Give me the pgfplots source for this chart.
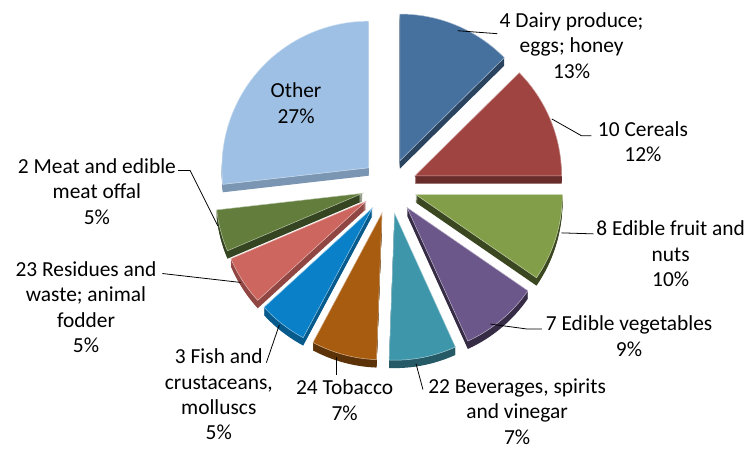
\documentclass[border=0pt]{standalone}
\usepackage{pgfplots}
\pgfplotsset{compat=1.18}
\usepackage{pgfplotstable}
\usepackage{fontspec}
\setmainfont{Carlito}
\definecolor{cDairy}{HTML}{46709E}
\definecolor{cCereal}{HTML}{A04441}
\definecolor{cFruit}{HTML}{829E48}
\definecolor{cVeg}{HTML}{6C578A}
\definecolor{cBev}{HTML}{3E96AA}
\definecolor{cTob}{HTML}{A85C10}
\definecolor{cFish}{HTML}{0A80C8}
\definecolor{cRes}{HTML}{CD665F}
\definecolor{cMeat}{HTML}{627D3C}
\definecolor{cOther}{HTML}{9EC0E4}
\begin{document}
\pgfplotstableread{
value color shade
12.6 cDairy 60
12.4 cCereal 65
9.6 cFruit 45
8.6 cVeg 50
7.4 cBev 60
7.2 cTob 55
5.4 cFish 70
5.4 cRes 70
4.6 cMeat 55
26.8 cOther 78
}\pietable
\def\pcx{386}\def\pcy{188}\def\pE{28}\def\pR{148}
\def\cum{0}
\pgfplotsforeachungrouped \i in {0,...,9}{%
  \pgfplotstablegetelem{\i}{value}\of\pietable \let\v\pgfplotsretval
  \pgfmathsetmacro\sa{90-3.6*\cum}%
  \pgfmathsetmacro\cum{\cum+\v}%
  \pgfmathsetmacro\ea{90-3.6*\cum}%
  \pgfmathsetmacro\ma{(\sa+\ea)/2}%
  \pgfmathsetmacro\axx{\pcx+\pE*cos(\ma)}%
  \pgfmathsetmacro\ayy{\pcy-\pE*sin(\ma)}%
  \pgfplotstablegetelem{\i}{color}\of\pietable
  \expandafter\xdef\csname cc\i\endcsname{\pgfplotsretval}%
  \pgfplotstablegetelem{\i}{shade}\of\pietable
  \expandafter\xdef\csname sh\i\endcsname{\pgfplotsretval}%
  \expandafter\xdef\csname sa\i\endcsname{\sa}%
  \expandafter\xdef\csname ea\i\endcsname{\ea}%
  \expandafter\xdef\csname ax\i\endcsname{\axx}%
  \expandafter\xdef\csname ay\i\endcsname{\ayy}%
}
\begin{tikzpicture}
\begin{axis}[name=ax, hide axis, x=1pt, y=1pt, xmin=0, xmax=746, ymin=0, ymax=454,
  y dir=reverse, clip=false, anchor=south west, at={(0,0)}]
% side (depth) of slices
\pgfplotsforeachungrouped \i in {0,...,9}{%
  \pgfplotsforeachungrouped \k in {1,...,8}{%
    \edef\temp{\noexpand\fill[\csname cc\i\endcsname!\csname sh\i\endcsname!black, yshift=-\k pt]
      (axis cs:\csname ax\i\endcsname,\csname ay\i\endcsname) -- ++(\csname sa\i\endcsname:\pR pt)
      arc[start angle=\csname sa\i\endcsname, end angle=\csname ea\i\endcsname, radius=\pR pt] -- cycle;}%
    \temp
  }%
}
% top faces
\pgfplotsforeachungrouped \i in {0,...,9}{%
  \edef\temp{\noexpand\fill[\csname cc\i\endcsname, draw=white!55!\csname cc\i\endcsname, line width=0.5pt]
    (axis cs:\csname ax\i\endcsname,\csname ay\i\endcsname) -- ++(\csname sa\i\endcsname:\pR pt)
    arc[start angle=\csname sa\i\endcsname, end angle=\csname ea\i\endcsname, radius=\pR pt] -- cycle;}%
  \temp
}
% leader lines
\draw[black, line width=0.8pt] (axis cs:455,31) -- (axis cs:495,34);
\draw[black, line width=0.8pt] (axis cs:550,120) -- (axis cs:580,137) -- (axis cs:590,137);
\draw[black, line width=0.8pt] (axis cs:560,235) -- (axis cs:592,236);
\draw[black, line width=0.8pt] (axis cs:488,327) -- (axis cs:525,332) -- (axis cs:540,332);
\draw[black, line width=0.8pt] (axis cs:413,367) -- (axis cs:420,393);
\draw[black, line width=0.8pt] (axis cs:333,360) -- (axis cs:333,378);
\draw[black, line width=0.8pt] (axis cs:275,328) -- (axis cs:262,366);
\draw[black, line width=0.8pt] (axis cs:157,276) -- (axis cs:236,285);
\draw[black, line width=0.8pt] (axis cs:173,172) -- (axis cs:185,172) -- (axis cs:213,228);
% labels
\tikzset{lab/.style={align=center, inner sep=0pt, font=\fontsize{21.6}{25.7}\selectfont, text=black}}
\node[lab] at (axis cs:570,46) {4 Dairy produce;\\eggs; honey\\13\%};
\node[lab] at (axis cs:642,143) {10 Cereals\\12\%};
\node[lab] at (axis cs:670,256) {8 Edible fruit and\\nuts\\10\%};
\node[lab] at (axis cs:628,339) {7 Edible vegetables\\9\%};
\node[lab] at (axis cs:515,415) {22 Beverages, spirits\\and vinegar\\7\%};
\node[lab] at (axis cs:341,404) {24 Tobacco\\7\%};
\node[lab] at (axis cs:214,398) {3 Fish and\\crustaceans,\\molluscs\\5\%};
\node[lab] at (axis cs:80,310) {23 Residues and\\waste; animal\\fodder\\5\%};
\node[lab] at (axis cs:91,193) {2 Meat and edible\\meat offal\\5\%};
\node[lab] at (axis cs:292,104) {Other\\27\%};
\end{axis}
\pgfresetboundingbox
\path[use as bounding box] (ax.south west) rectangle (ax.north east);
\end{tikzpicture}
\end{document}
